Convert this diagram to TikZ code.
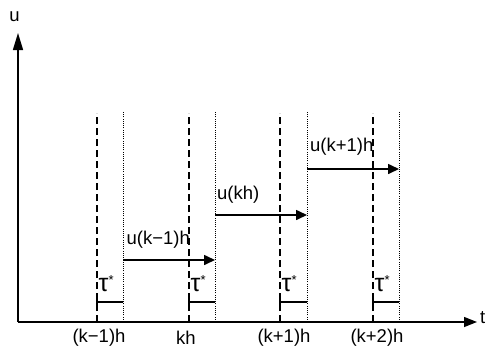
\documentclass[tikz,border=0pt]{standalone}
\usepackage{fontspec}
\setmainfont{Liberation Sans}
\usetikzlibrary{arrows.meta}
\begin{document}
\begin{tikzpicture}[x=1pt,y=-1pt,
  lbl/.style={inner sep=0pt,font=\fontsize{18.5}{20}\selectfont},
  yax/.style={line width=1.4pt,-{Triangle[length=17pt,width=10pt]}},
  xax/.style={line width=1.4pt,-{Triangle[length=13pt,width=10pt]}},
  sig/.style={line width=1.6pt,-{Triangle[length=11pt,width=10pt]}},
  dsh/.style={line width=1.3pt,dash pattern=on 7pt off 4pt},
  dtt/.style={line width=0.9pt,dash pattern=on 1pt off 1.2pt},
  bar/.style={line width=1.3pt}]
\useasboundingbox (0,0) rectangle (488,354);
\coordinate (o) at (18,322);
\coordinate (ytop) at (18,33);
\coordinate (xend) at (477,322);
\draw[yax] (o) -- (ytop);
\draw[xax] (o) -- (xend);
\node[lbl] (ulab) at (14.5,17) {u};
\node[lbl,anchor=west] (tlab) at (480,318) {t};
% vertical lines
\foreach \n/\d/\p in {a/97/123,b/189/215,c/280/307,d/373/399}{
  \coordinate (d\n t) at (\d,113);
  \coordinate (d\n b) at (\d,322);
  \coordinate (p\n t) at (\p,111);
  \coordinate (p\n b) at (\p,322);
  \draw[dsh] (d\n b) -- (d\n t);
  \draw[dtt] (p\n b) -- (p\n t);
  \coordinate (bl\n) at (\d,302);
  \coordinate (br\n) at (\p,302);
  \draw[bar] (bl\n) -- (br\n);
  \draw[bar] ([yshift=-5pt]bl\n) -- ([yshift=5pt]bl\n);
  \node[lbl,anchor=west] (tau\n) at (\d+1.5,284) {{\fontsize{25}{25}\selectfont τ}\raisebox{7pt}{\fontsize{13}{13}\selectfont *}};
}
% signal arrows
\coordinate (sa) at (123,260); \coordinate (ea) at (215,260);
\coordinate (sb) at (215,215); \coordinate (eb) at (307,215);
\coordinate (sc) at (307,169); \coordinate (ec) at (399,169);
\draw[sig] (sa) -- (ea);
\draw[sig] (sb) -- (eb);
\draw[sig] (sc) -- (ec);
\node[lbl,anchor=west] (la) at (126.5,240) {u(k−1)h};
\node[lbl,anchor=west] (lb) at (217,195) {u(kh)};
\node[lbl,anchor=west] (lc) at (310,147) {u(k+1)h};
% tick labels
\node[lbl] (ta) at (99,338) {(k−1)h};
\node[lbl] (tb) at (186,338) {kh};
\node[lbl] (tc) at (284,338) {(k+1)h};
\node[lbl] (td) at (377,338) {(k+2)h};
\end{tikzpicture}
\end{document}
